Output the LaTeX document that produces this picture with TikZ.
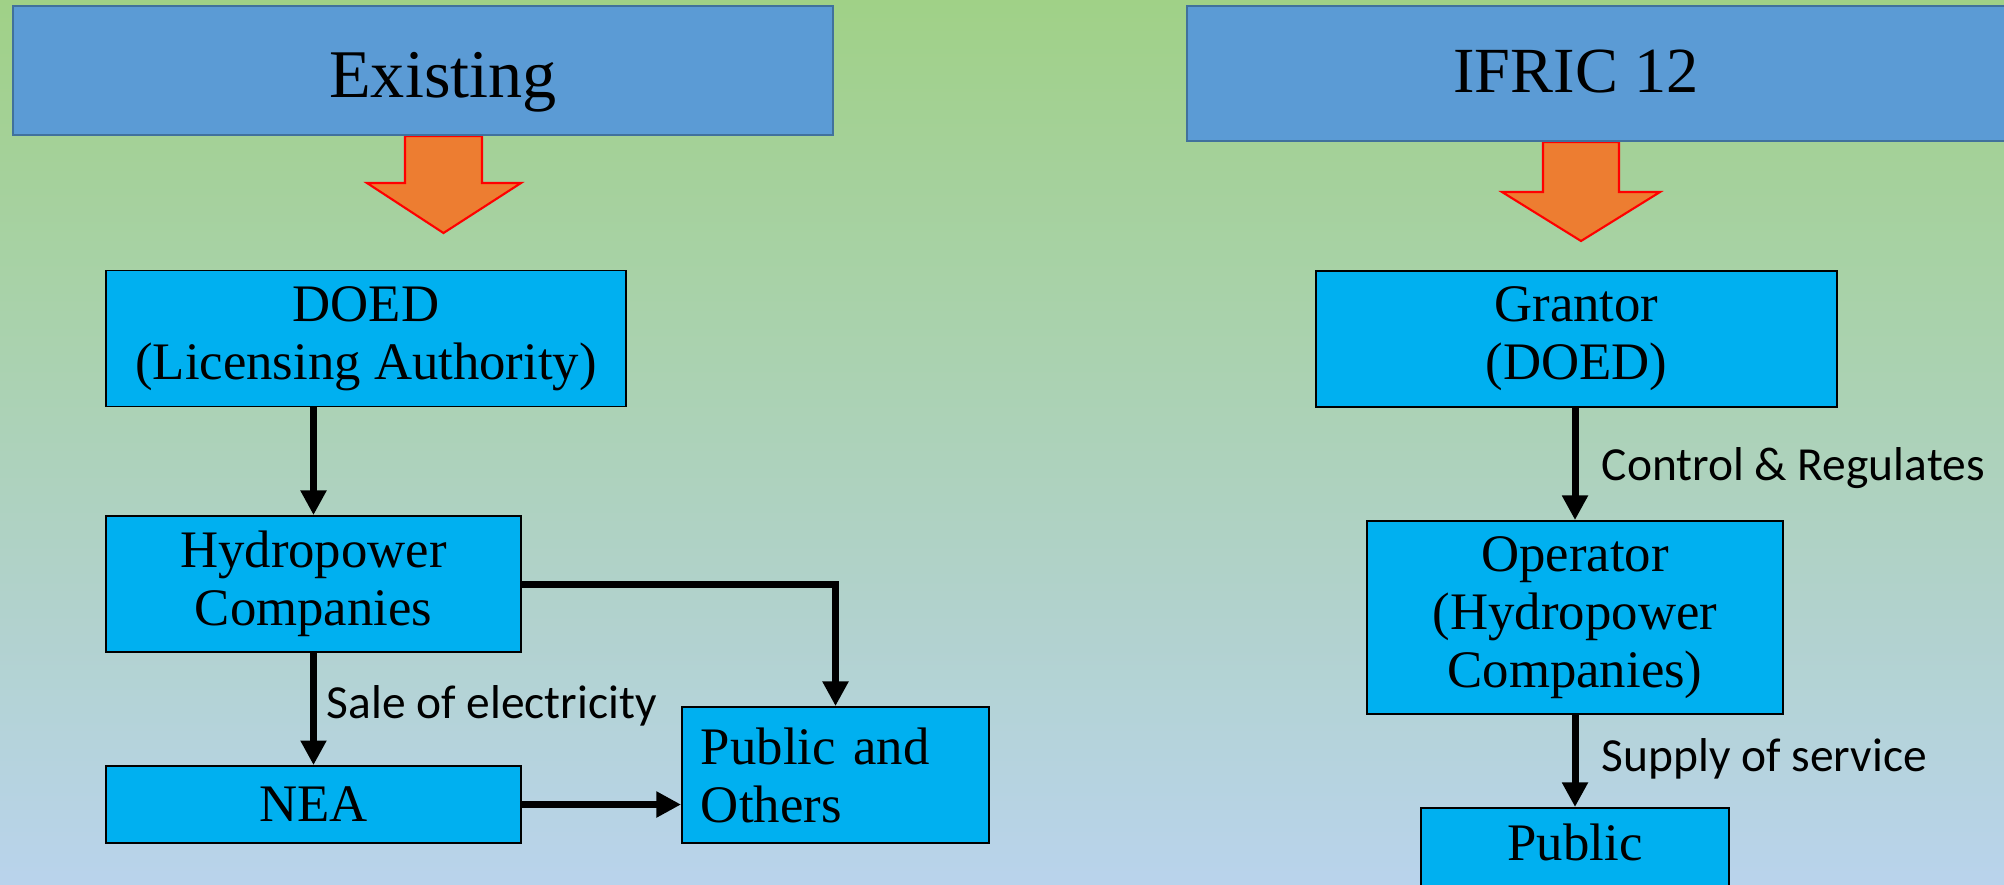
\documentclass[tikz,border=0pt]{standalone}
\usepackage{fontspec}
\setmainfont{Liberation Serif}
\newfontfamily\lblfont{Carlito}
\usetikzlibrary{arrows.meta}
\definecolor{bgtop}{RGB}{160,209,135}
\definecolor{bgmid}{RGB}{171,209,196}
\definecolor{bgbot}{RGB}{185,211,236}
\definecolor{hdrfill}{RGB}{91,155,213}
\definecolor{hdrline}{RGB}{65,113,156}
\definecolor{boxfill}{RGB}{0,176,240}
\definecolor{orangefill}{RGB}{237,125,49}
\begin{document}
\begin{tikzpicture}[x=0.01cm,y=-0.01cm,
  hdr/.style={draw=hdrline, fill=hdrfill, line width=0.7pt, inner sep=0pt},
  cbox/.style={draw=black, fill=boxfill, line width=0.5pt, inner sep=0pt, align=center, font=\fontsize{15}{16.5}\selectfont},
  boxtxt/.style={inner sep=0pt, anchor=base, font=\fontsize{15}{16.5}\selectfont},
  lbl/.style={font=\lblfont\fontsize{13.5}{16}\selectfont, inner sep=0pt, anchor=base west},
  conn/.style={line width=2pt, -{Triangle[width=7pt,length=7pt]}},
  blockarrow/.style={fill=orangefill, draw=red, line width=0.6pt, line join=miter}]
\useasboundingbox (0,0) rectangle (2004,884);
\clip (0,0) rectangle (2004,884);
\shade[top color=bgtop, middle color=bgmid, bottom color=bgbot] (0,0) rectangle (2004,884);

% block arrows
\draw[blockarrow] (405,136) -- (405,183) -- (367,183) -- (443.5,233) -- (521,183) -- (482,183) -- (482,136) -- cycle;
\draw[blockarrow] (1543,142) -- (1543,192) -- (1502,192) -- (1581,241) -- (1660,192) -- (1619,192) -- (1619,142) -- cycle;

% headers
\node[hdr, minimum width=8.20cm, minimum height=1.29cm] (exist) at (423,70.5) {};
\node[inner sep=0pt, anchor=base, font=\fontsize{19.4}{22}\selectfont] (existT) at (443,97) {Existing};
\node[hdr, minimum width=8.43cm, minimum height=1.35cm] (ifric) at (1608.5,73.5) {};
\node[inner sep=0pt, anchor=base, font=\fontsize{18.3}{22}\selectfont] (ifricT) at (1576,92) {IFRIC 12};

% left side
\node[cbox, minimum width=5.20cm, minimum height=1.36cm] (doed) at (366,338.5) {DOED\\(Licensing Authority)};
\node[cbox, minimum width=4.15cm, minimum height=1.36cm] (hydro) at (313.5,584) {Hydropower\\Companies};
\node[cbox, minimum width=4.15cm, minimum height=0.77cm] (nea) at (313.5,804.5) {NEA};
\node[cbox, minimum width=3.07cm, minimum height=1.36cm, text width=2.69cm, align=left] (pubo) at (835.5,775) {Public and\\Others};

% right side
\node[cbox, minimum width=5.21cm, minimum height=1.36cm] (grantor) at (1576.5,339) {Grantor\\(DOED)};
\node[cbox, minimum width=4.16cm, minimum height=1.93cm] (oper) at (1575,617.5) {Operator\\(Hydropower\\Companies)};
\node[cbox, minimum width=3.08cm, minimum height=1.2cm, anchor=north] (pub) at (1575,807) {};
\node[boxtxt] (pubT) at (1575,860) {Public};

% connectors
\draw[conn] (hydro.north |- doed.south) -- (hydro.north);
\draw[conn] (hydro.south) -- (nea.north);
\draw[conn] (hydro.east) -- (hydro.east -| pubo.north) -- (pubo.north);
\draw[conn] (nea.east) -- (nea.east -| pubo.west);
\draw[conn] (oper.north |- grantor.south) -- (oper.north);
\draw[conn] (oper.south) -- (pub.north);

% labels
\node[lbl] (sale) at (326,718) {Sale of electricity};
\node[lbl] (ctrl) at (1601,480) {Control \& Regulates};
\node[lbl] (supply) at (1601,771) {Supply of service};
\end{tikzpicture}
\end{document}
